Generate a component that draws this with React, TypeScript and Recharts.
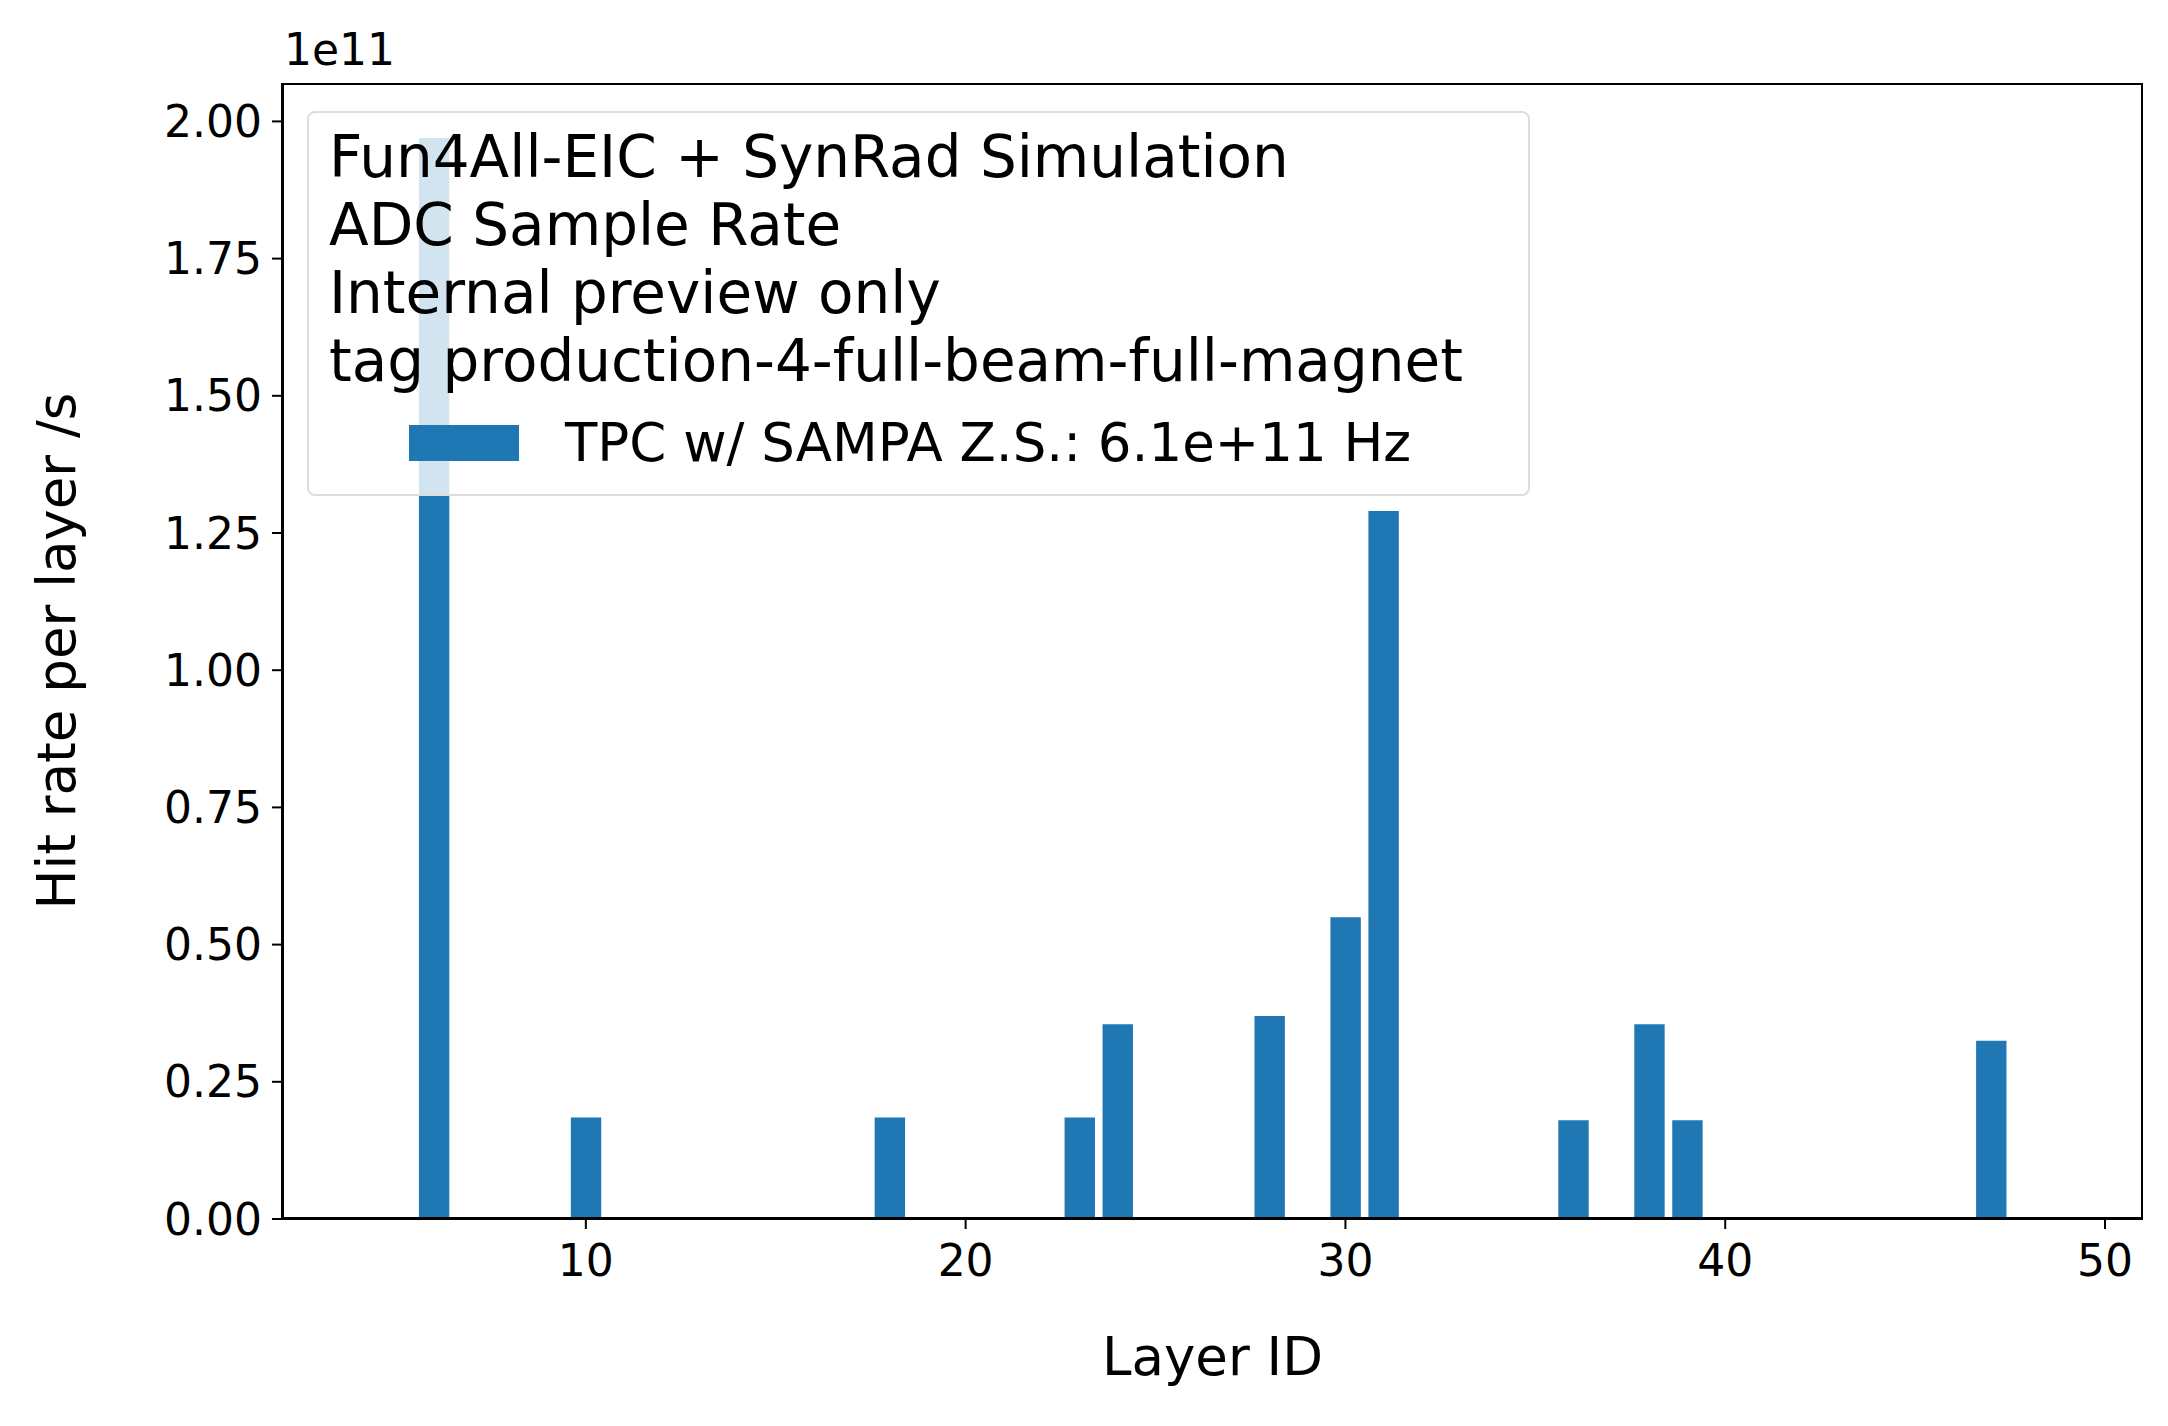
import { Bar, BarChart, XAxis, YAxis, Label } from "recharts";

const layers = [6, 10, 18, 23, 24, 28, 30, 31, 36, 38, 39, 47];
const rates = [1.97, 0.185, 0.185, 0.185, 0.355, 0.37, 0.55, 1.29, 0.18, 0.355, 0.18, 0.325];
const xTicks = [10, 20, 30, 40, 50];
const yTicks = [0, 0.25, 0.5, 0.75, 1, 1.25, 1.5, 1.75, 2];
const infoLines = [
  "Fun4All-EIC + SynRad Simulation",
  "ADC Sample Rate",
  "Internal preview only",
  "tag production-4-full-beam-full-magnet",
];
const seriesName = "TPC w/ SAMPA Z.S.: 6.1e+11 Hz";

const data = layers.map((l, i) => ({ layer: l, rate: rates[i] }));

const W = 2168;
const H = 1426;
const L = 282;
const R = 2143;
const T = 83;
const B = 1219;
const BLUE = "#1f77b4";
const FONT = "DejaVu Sans, sans-serif";

export default function App() {
  const unit = (R - L) / (51 - 2);
  return (
    <div style={{ position: "relative", width: W, height: H, margin: -8, fontFamily: FONT, background: "#fff" }}>
      <BarChart
        width={W}
        height={H}
        data={data}
        margin={{ top: T, right: W - R, bottom: 0, left: 0 }}
      >
        <XAxis
          dataKey="layer"
          type="number"
          domain={[2, 51]}
          ticks={xTicks}
          height={H - B}
          stroke="#000"
          strokeWidth={2}
          tickSize={10}
          tick={{ fill: "#000", fontSize: 44, fontFamily: FONT, dy: 14 }}
        >
          <Label value="Layer ID" position="insideTop" offset={118} style={{ fill: "#000", fontSize: 53, fontFamily: FONT }} />
        </XAxis>
        <YAxis
          type="number"
          domain={[0, 2.07]}
          ticks={yTicks}
          width={L}
          stroke="#000"
          strokeWidth={2}
          tickSize={10}
          tickFormatter={(v: number) => v.toFixed(2)}
          tick={{ fill: "#000", fontSize: 44, fontFamily: FONT, dx: -8 }}
        >
          <Label
            value="Hit rate per layer /s"
            angle={-90}
            position="insideLeft"
            offset={56}
            style={{ fill: "#000", fontSize: 53, fontFamily: FONT, textAnchor: "middle" }}
          />
        </YAxis>
        <Bar dataKey="rate" fill={BLUE} barSize={unit * 0.8} isAnimationActive={false} />
      </BarChart>
      <div style={{ position: "absolute", left: L, top: T, width: R - L, height: B - T, border: "2px solid #000", boxSizing: "border-box", pointerEvents: "none" }} />
      <div style={{ position: "absolute", left: 284, top: 24, fontSize: 44 }}>1e11</div>
      <div
        style={{
          position: "absolute",
          left: 307,
          top: 111,
          width: 1223,
          height: 385,
          border: "2px solid #ddd",
          borderRadius: 8,
          background: "rgba(255,255,255,0.8)",
          boxSizing: "border-box",
          padding: "10px 0 0 20px",
          fontSize: 58,
          lineHeight: "68px",
        }}
      >
        {infoLines.map((t) => (
          <div key={t}>{t}</div>
        ))}
        <div style={{ display: "flex", alignItems: "center", marginTop: 14, fontSize: 53 }}>
          <span style={{ display: "inline-block", width: 110, height: 36, background: BLUE, marginLeft: 80, marginRight: 46 }} />
          {seriesName}
        </div>
      </div>
    </div>
  );
}
